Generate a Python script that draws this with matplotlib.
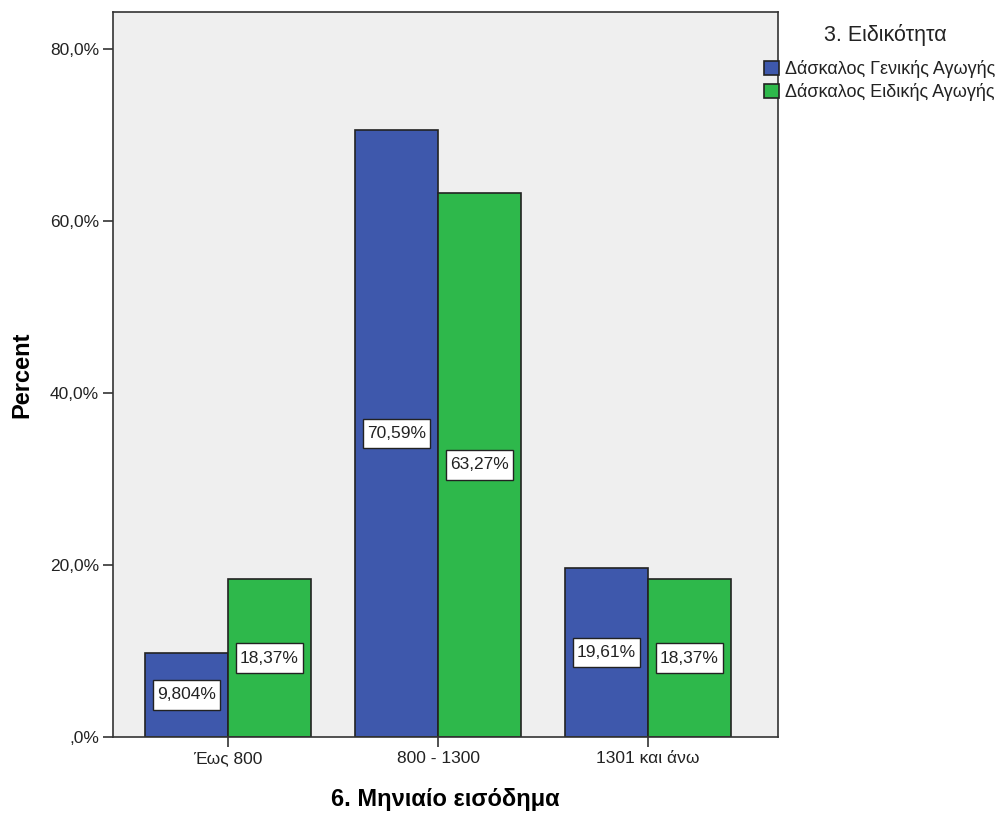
import matplotlib.pyplot as plt
import numpy as np
from matplotlib.path import Path
from matplotlib.ticker import FuncFormatter

plt.rcParams['font.family'] = ['Liberation Sans', 'DejaVu Sans']

# δεδομένα
categories = ['Έως 800', '800 - 1300', '1301 και άνω']
series_names = ['Δάσκαλος Γενικής Αγωγής', 'Δάσκαλος Ειδικής Αγωγής']
general = [9.804, 70.59, 19.61]
special = [18.37, 63.27, 18.37]
value_labels = [['9,804%', '70,59%', '19,61%'], ['18,37%', '63,27%', '18,37%']]
colors = ['#3E58AC', '#2EB84B']


# κουτί ετικέτας με διαφορετικό περιθώριο οριζόντια / κάθετα
def label_box(x0, y0, width, height, mutation_size):
    px, py = 0.22 * mutation_size, 0.42 * mutation_size
    x0, y0 = x0 - px, y0 - py
    x1, y1 = x0 + width + 2 * px, y0 + height + 2 * py
    return Path([(x0, y0), (x1, y0), (x1, y1), (x0, y1), (x0, y0)], closed=True)


fig = plt.figure(figsize=(10.07, 8.14), dpi=100)
ax = fig.add_axes([113 / 1007, 1 - 737 / 814, 665 / 1007, 725 / 814])
ax.set_facecolor('#EFEFEF')

x = np.arange(len(categories))
w = 0.394
for i, (vals, col) in enumerate(zip([general, special], colors)):
    pos = x + (i - 0.5) * w
    ax.bar(pos, vals, width=w, color=col, edgecolor='#222222', linewidth=1.2,
           label=series_names[i], zorder=2)
    for p, v, t in zip(pos, vals, value_labels[i]):
        ax.text(p, v / 2, t, ha='center', va='center', fontsize=12.5, zorder=3,
                color='#222222',
                bbox=dict(boxstyle=label_box, fc='white', ec='#222222', lw=1))

ax.set_xlim(-0.548, 2.619)
ax.set_ylim(0, 84.3)
ax.set_yticks([0, 20, 40, 60, 80])
ax.yaxis.set_major_formatter(FuncFormatter(lambda v, p: ',0%' if v == 0 else f'{v:.1f}%'.replace('.', ',')))
ax.set_xticks(x)
ax.set_xticklabels(categories)
ax.tick_params(axis='both', labelsize=12.5, length=7, width=1.2, color='#333333',
               labelcolor='#222222', pad=3)
for s in ax.spines.values():
    s.set_color('#333333')
    s.set_linewidth(1.2)

ax.set_xlabel('6. Μηνιαίο εισόδημα', fontsize=17, fontweight='bold', labelpad=16)
ax.set_ylabel('Percent', fontsize=17, fontweight='bold', labelpad=12)

# υπόμνημα
fig.text(885 / 1007, 1 - 35 / 814, '3. Ειδικότητα', ha='center', va='center',
         fontsize=15.5, color='#222222')
leg = fig.legend(*ax.get_legend_handles_labels(), loc='upper left',
                 bbox_to_anchor=(764 / 1007, 1 - 60 / 814), bbox_transform=fig.transFigure,
                 frameon=False, fontsize=13, handlelength=0.85,
                 handleheight=0.85, handletextpad=0.3, labelspacing=0.3, borderaxespad=0,
                 borderpad=0)
for h in leg.legend_handles:
    h.set_edgecolor('#222222')
for t in leg.get_texts():
    t.set_color('#222222')

plt.savefig('out.png', dpi=100)
